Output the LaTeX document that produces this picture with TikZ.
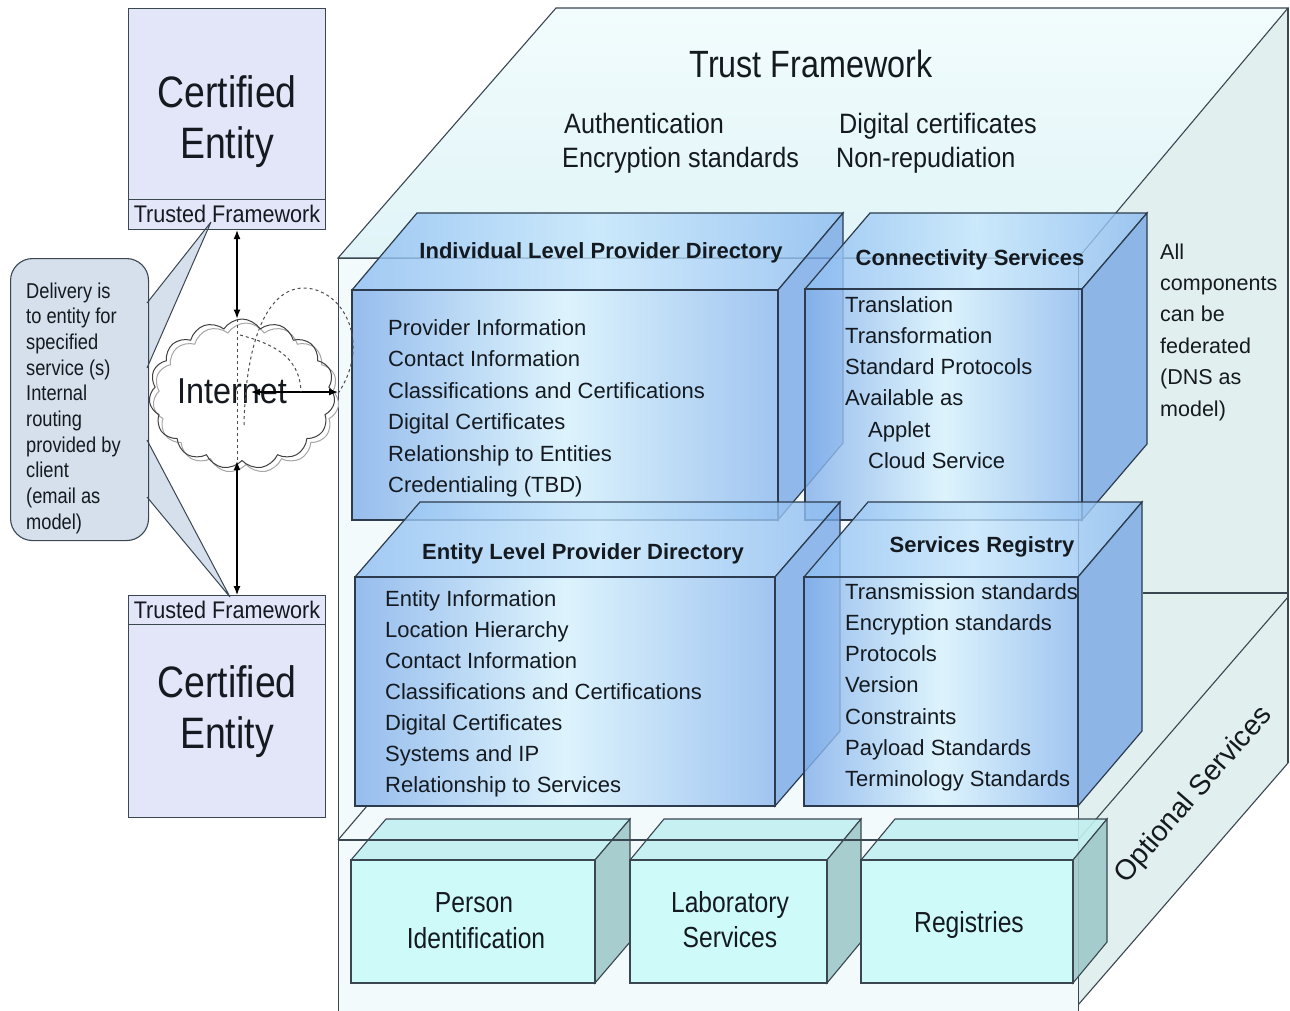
\documentclass[tikz,border=0pt]{standalone}
\usepackage{fontspec}
\setmainfont{Liberation Sans}
\newfontfamily\narrowA{Liberation Sans}[FakeStretch=0.85]
\newfontfamily\narrowB{Liberation Sans}[FakeStretch=0.9]
\usetikzlibrary{arrows.meta,shapes.symbols,calc}

\definecolor{cubetopA}{HTML}{F2FCFD}
\definecolor{cubetopB}{HTML}{E0F4F7}
\definecolor{cubefrontC}{HTML}{F3FAFC}
\definecolor{cubesideC}{HTML}{E1EFEF}
\definecolor{lineC}{HTML}{3A4650}
\definecolor{blineC}{HTML}{2C3C4E}
\definecolor{bfL}{HTML}{80AEEA}
\definecolor{bfM}{HTML}{D8F2FD}
\definecolor{bfR}{HTML}{8CB8EE}
\definecolor{btL}{HTML}{8EBEF2}
\definecolor{btM}{HTML}{C6E6FC}
\definecolor{btR}{HTML}{8ABAF0}
\definecolor{bsC}{HTML}{78A8E6}
\definecolor{cyF}{HTML}{CCFAFA}
\definecolor{cyT}{HTML}{C2F0F0}
\definecolor{cyS}{HTML}{9FC9C9}
\definecolor{lavC}{HTML}{E3E6F9}
\definecolor{calloutC}{HTML}{D6E0EC}
\definecolor{txtC}{HTML}{141A20}

\newcommand{\ThreeD}[7]{%
  \path[#7top] (#1,#2) -- (#1+#5,#2-#6) -- (#3+#5,#2-#6) -- (#3,#2) -- cycle;
  \path[#7side] (#3,#2) -- (#3+#5,#2-#6) -- (#3+#5,#4-#6) -- (#3,#4) -- cycle;
  \path[#7front] (#1,#2) rectangle (#3,#4);
}

\begin{document}
\begin{tikzpicture}[x=1pt,y=-1pt,
  cl/.style={draw=lineC, line width=1.1pt},
  btop/.style={draw=blineC, line width=1.2pt, left color=btL, right color=btR, middle color=btM, fill opacity=0.8},
  bside/.style={draw=blineC, line width=1.2pt, fill=bsC, fill opacity=0.8},
  bfront/.style={draw=blineC, line width=1.2pt, left color=bfL, right color=bfR, middle color=bfM, fill opacity=0.8},
  ctop/.style={draw=lineC, line width=1.1pt, fill=cyT, fill opacity=0.9},
  cside/.style={draw=lineC, line width=1.1pt, fill=cyS, fill opacity=0.9},
  cfront/.style={draw=lineC, line width=1.1pt, fill=cyF, fill opacity=0.9},
  bodyt/.style={font=\fontsize{22}{26}\selectfont, text=txtC, anchor=base west, inner sep=0},
  titlet/.style={font=\fontsize{22}{26}\selectfont\bfseries, text=txtC, anchor=base, inner sep=0},
  trustt/.style={font=\narrowB\fontsize{28}{32}\selectfont, text=txtC, anchor=base west, inner sep=0},
  bigt/.style={font=\narrowA\fontsize{44}{50}\selectfont, text=txtC, anchor=base, inner sep=0},
  svct/.style={font=\narrowA\fontsize{29}{34}\selectfont, text=txtC, anchor=base, inner sep=0},
  callt/.style={font=\narrowA\fontsize{21.5}{25}\selectfont, text=txtC, anchor=base west, inner sep=0},
  dbl/.style={line width=1.2pt, {Latex[length=9pt,width=7pt]}-{Latex[length=9pt,width=7pt]}},
  dsh/.style={line width=1pt, dashed, draw=black!70}
]
\useasboundingbox (0,0) rectangle (1290,1010);

% ---------- big cube ----------
\path[fill=cubesideC] (1078,258) -- (1288,8) -- (1288,763) -- (1078,1005) -- (1078,1010) -- cycle;
\draw[cl] (1288,8) -- (1288,763);
\draw[cl] (1078,1005) -- (1288,763);
\draw[cl] (1078,840) -- (1288,597);
\draw[cl] (1143,593) -- (1288,593);
\path[cl, top color=cubetopA, bottom color=cubetopB] (338,258) -- (556,8) -- (1288,8) -- (1078,258) -- cycle;
\node[cl, fill=cubefrontC, minimum width=740, minimum height=770, anchor=north west, inner sep=0] (front) at (338,258) {};
\draw[cl] (338,840) -- (367,806);

% Trust framework texts
\node[font=\narrowA\fontsize{38}{44}\selectfont, text=txtC, anchor=base, inner sep=0] (tf) at (811,77) {Trust Framework};
\node[trustt] (auth) at (564,133) {Authentication};
\node[trustt] (encr) at (562,167) {Encryption standards};
\node[trustt] (digc) at (839,133) {Digital certificates};
\node[trustt] (nonr) at (836,167) {Non-repudiation};

% All components text
\foreach \t [count=\i] in {All,components,can be,federated,{(DNS as},{model)}}
  \node[bodyt, font=\fontsize{21.5}{25}\selectfont] (fed\i) at (1160,{259+31.4*(\i-1)}) {\t};

\node[font=\fontsize{28.5}{32}\selectfont, text=txtC, rotate=49, inner sep=0] (opt) at (1194,795) {Optional Services};

% ---------- blue boxes ----------
\ThreeD{352}{290}{778}{520}{65}{77}{b}
\ThreeD{805}{289}{1082}{520}{65}{76}{b}
\ThreeD{355}{577}{775}{806}{65}{75}{b}
\ThreeD{804}{577}{1078}{806}{64}{75}{b}

\node[titlet] (indT) at (601,258) {Individual Level Provider Directory};
\node[titlet] (conT) at (970,265) {Connectivity Services};
\node[titlet] (entT) at (583,559) {Entity Level Provider Directory};
\node[titlet] (regT) at (982,552) {Services Registry};

\foreach \t [count=\i] in {Provider Information,Contact Information,Classifications and Certifications,Digital Certificates,Relationship to Entities,{Credentialing (TBD)}}
  \node[bodyt] (ind\i) at (388,{335+31.5*(\i-1)}) {\t};

\node[bodyt] (con1) at (845,312) {Translation};
\node[bodyt] (con2) at (845,343) {Transformation};
\node[bodyt] (con3) at (845,374) {Standard Protocols};
\node[bodyt] (con4) at (845,405) {Available as};
\node[bodyt] (con5) at (868,437) {Applet};
\node[bodyt] (con6) at (868,468) {Cloud Service};

\foreach \t [count=\i] in {Entity Information,Location Hierarchy,Contact Information,Classifications and Certifications,Digital Certificates,Systems and IP,Relationship to Services}
  \node[bodyt] (ent\i) at (385,{606+31.1*(\i-1)}) {\t};

\foreach \t [count=\i] in {Transmission standards,Encryption standards,Protocols,Version,Constraints,Payload Standards,Terminology Standards}
  \node[bodyt] (reg\i) at (845,{599+31.3*(\i-1)}) {\t};

% ---------- cyan boxes ----------
\ThreeD{351}{860}{595}{983}{35}{41}{c}
\ThreeD{630}{860}{827}{983}{34}{41}{c}
\ThreeD{861}{860}{1073}{983}{34}{41}{c}
\draw[cl] (338,840) -- (1078,840);

\node[svct] (pers1) at (474,912) {Person};
\node[svct] (pers2) at (476,948) {Identification};
\node[svct] (lab1) at (730,912) {Laboratory};
\node[svct] (lab2) at (730,947) {Services};
\node[svct] (regs) at (969,932) {Registries};

% ---------- left side ----------
\path[fill=calloutC] (211,222) -- (147,303) -- (147,368) -- cycle;
\path[fill=calloutC] (230,597) -- (147,440) -- (147,497) -- cycle;
\node[draw=lineC, line width=1.1pt, fill=calloutC, rounded corners=22pt, minimum width=138, minimum height=282, anchor=north west, inner sep=0] (callout) at (10,258) {};
\foreach \t [count=\i] in {Delivery is,to entity for,specified,{service (s)},Internal,routing,provided by,client,{(email as},{model)}}
  \node[callt] (cal\i) at (26,{298+25.7*(\i-1)}) {\t};

\node[draw=lineC, line width=1.1pt, fill=lavC, minimum width=197, minimum height=191, anchor=north west, inner sep=0] (ceTop) at (128,8) {};
\node[draw=lineC, line width=1.1pt, fill=lavC, minimum width=197, minimum height=30, anchor=north west, inner sep=0] (tfTop) at (128,199) {};
\node[draw=lineC, line width=1.1pt, fill=lavC, minimum width=197, minimum height=29, anchor=north west, inner sep=0] (tfBot) at (128,595) {};
\node[draw=lineC, line width=1.1pt, fill=lavC, minimum width=197, minimum height=193, anchor=north west, inner sep=0] (ceBot) at (128,624) {};

\node[bigt] (ceT1) at (227,107) {Certified};
\node[bigt] (ceT2) at (227,158) {Entity};
\node[bigt] (ceB1) at (227,697) {Certified};
\node[bigt] (ceB2) at (227,748) {Entity};
\node[font=\narrowB\fontsize{24}{28}\selectfont, text=txtC, anchor=base, inner sep=0] (tfTopT) at (227,222) {Trusted Framework};
\node[font=\narrowB\fontsize{24}{28}\selectfont, text=txtC, anchor=base, inner sep=0] (tfBotT) at (227,618) {Trusted Framework};

\draw[draw=lineC, line width=1pt] (211,222) -- (147,303) (211,222) -- (147,368);
\draw[draw=lineC, line width=1pt] (230,597) -- (147,440) (230,597) -- (147,497);

% cloud
\node[cloud, cloud puffs=15, cloud puff arc=115, aspect=1.25, minimum width=186, minimum height=150, draw=black!35, fill=white, line width=1pt] (inetS) at (246,398) {};
\node[cloud, cloud puffs=15, cloud puff arc=115, aspect=1.25, minimum width=186, minimum height=150, draw=black!75, line width=1pt] (inet) at (242,394) {};
\node[font=\narrowB\fontsize{36}{40}\selectfont, text=txtC, anchor=base, inner sep=0] (inetT) at (232,403) {Internet};

\coordinate (ax) at (237,0);
\coordinate (hs) at (251,392);
\draw[dbl] (tfTop.south -| ax) -- (inet.north -| ax);
\draw[dsh] (inet.north -| ax) -- (inet.south -| ax);
\draw[dbl] (inet.south -| ax) -- (tfBot.north -| ax);
\draw[dbl] (hs) -- (front.west |- hs);

\draw[dsh] (244,425) .. controls (246,330) and (272,287) .. (305,288) .. controls (345,290) and (372,345) .. (337,395);
\draw[dsh] (240,335) .. controls (270,343) and (300,355) .. (301,392);
\end{tikzpicture}
\end{document}
